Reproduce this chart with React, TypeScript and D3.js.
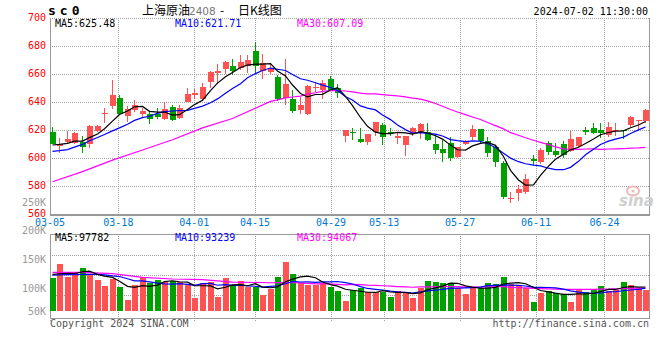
import React, { useEffect, useRef } from 'react';
import * as d3 from 'd3';

// trading days shown on the chart
const dates = [
  '03-05', '03-06', '03-07', '03-08', '03-11', '03-12', '03-13', '03-14', '03-15', '03-18',
  '03-19', '03-20', '03-21', '03-22', '03-25', '03-26', '03-27', '03-28', '03-29', '04-01',
  '04-02', '04-03', '04-08', '04-09', '04-10', '04-11', '04-12', '04-15', '04-16', '04-17',
  '04-18', '04-19', '04-22', '04-23', '04-24', '04-25', '04-26', '04-29', '04-30', '05-06',
  '05-07', '05-08', '05-09', '05-10', '05-13', '05-14', '05-15', '05-16', '05-17', '05-20',
  '05-21', '05-22', '05-23', '05-24', '05-27', '05-28', '05-29', '05-30', '05-31', '06-03',
  '06-04', '06-05', '06-06', '06-07', '06-11', '06-12', '06-13', '06-14', '06-17', '06-18',
  '06-19', '06-20', '06-21', '06-24', '06-25', '06-26', '06-27', '06-28', '07-01', '07-02',
];

const opens = [
  618.9, 608.4, 611.5, 611.0, 611.2, 609.8, 619.1, 632.0, 637.0, 643.1,
  630.3, 634.1, 631.7, 631.7, 631.5, 628.1, 636.5, 628.4, 640.3, 645.3,
  642.0, 654.3, 661.0, 663.9, 665.8, 664.6, 665.5, 676.3, 662.2, 661.7,
  657.9, 643.2, 642.3, 634.5, 631.6, 650.5, 648.3, 656.6, 650.0, 615.9,
  618.8, 613.8, 611.2, 618.3, 623.8, 618.6, 614.0, 609.5, 617.6, 618.8,
  618.3, 610.0, 606.4, 610.4, 600.9, 610.0, 615.2, 620.7, 611.9, 607.6,
  596.4, 571.0, 575.2, 575.4, 599.5, 597.1, 610.7, 605.2, 610.2, 605.2,
  608.8, 619.8, 621.4, 619.8, 616.2, 619.8, 619.8, 623.8, 627.0, 626.2,
];
const highs = [
  622.4, 614.6, 619.3, 618.9, 615.8, 623.4, 623.9, 635.5, 656.0, 644.8,
  637.4, 641.7, 636.0, 633.1, 636.0, 640.3, 637.9, 637.9, 649.8, 649.6,
  653.9, 662.5, 667.2, 669.3, 670.5, 673.6, 673.6, 683.2, 674.1, 668.2,
  659.0, 671.0, 648.8, 643.5, 652.3, 654.2, 655.9, 658.8, 653.0, 620.2,
  621.4, 621.4, 617.3, 625.4, 625.0, 621.4, 617.8, 615.4, 621.9, 624.9,
  624.9, 617.1, 613.0, 614.7, 607.6, 613.0, 623.5, 620.7, 614.7, 608.8,
  598.0, 575.4, 580.7, 588.5, 602.4, 607.1, 611.9, 610.7, 611.9, 619.0,
  615.2, 622.1, 625.0, 625.0, 625.7, 625.0, 619.8, 629.8, 627.4, 635.2,
];
const lows = [
  610.0, 603.9, 609.8, 610.0, 603.9, 607.4, 618.5, 625.3, 634.8, 631.0,
  626.0, 633.0, 629.6, 624.1, 627.7, 627.0, 626.5, 627.7, 640.0, 642.0,
  640.5, 650.0, 652.7, 659.8, 659.3, 663.1, 661.0, 661.0, 656.7, 660.0,
  641.0, 637.9, 632.0, 631.6, 630.4, 646.9, 642.1, 648.0, 642.8, 611.2,
  612.6, 610.7, 609.5, 615.4, 609.0, 616.0, 610.2, 601.2, 616.0, 613.5,
  612.0, 603.0, 597.3, 598.0, 599.7, 609.0, 613.0, 611.0, 600.4, 593.3,
  571.0, 567.6, 569.5, 574.0, 595.2, 596.0, 601.9, 601.0, 600.0, 604.0,
  608.0, 616.7, 617.0, 614.3, 615.0, 615.5, 613.8, 622.0, 620.2, 625.0,
];
const closes = [
  610.3, 610.0, 613.9, 618.1, 608.1, 622.7, 623.1, 632.3, 645.3, 631.7,
  635.3, 638.1, 633.9, 627.7, 629.1, 635.3, 627.2, 635.5, 646.0, 646.7,
  651.0, 661.7, 662.0, 668.6, 662.2, 668.9, 670.1, 665.8, 668.2, 664.1,
  642.4, 652.7, 633.3, 638.1, 651.6, 651.0, 653.5, 648.8, 646.4, 620.2,
  618.1, 611.2, 617.3, 625.4, 615.0, 618.3, 615.4, 615.4, 621.1, 624.2,
  613.1, 605.7, 603.3, 599.7, 607.6, 611.9, 620.7, 612.3, 603.3, 596.9,
  572.3, 571.2, 577.8, 585.0, 597.8, 606.0, 604.5, 602.4, 602.4, 613.8,
  615.2, 618.3, 617.8, 617.8, 622.1, 620.2, 619.0, 629.0, 627.4, 634.5,
];
const volumes = [
  116000, 139700, 117800, 123600, 133300, 121900, 112100, 102200, 113300, 100500,
  77600, 103400, 116700, 106400, 112100, 108100, 110300, 108100, 103400, 81600,
  107400, 109100, 83300, 116000, 101700, 110300, 99500, 100500, 86700, 96600,
  117800, 143600, 122900, 106400, 103400, 103400, 106400, 100500, 93600, 76400,
  94800, 97800, 91900, 91900, 91900, 83300, 93600, 91900, 81600, 98800,
  110300, 109100, 107400, 107400, 97800, 88400, 97800, 97800, 107400, 105200,
  117800, 104700, 102200, 97800, 74700, 90200, 93600, 90200, 87900, 74700,
  94800, 91900, 96600, 101700, 93600, 94800, 109100, 103400, 97800, 94800,
];

const priceMa5Head = [609.3, 609.8, 610.5, 612.0];
const priceMa10Head = [604.8, 605.3, 606.0, 607.8, 609.7, 612.3, 614.6, 616.8, 619.4];
const ma30HeadIdx = [0, 4, 8, 12, 16, 20, 24];
const priceMa30Head = [583.0, 590.3, 598.5, 605.7, 613.0, 621.5, 628.2];
const volMa5Head = [121900, 122800, 123600, 123300];
const volMa10Head = [120600, 120900, 121200, 121400, 121700, 121700, 121700, 120900, 119100];
const volMa30Head = [125300, 125300, 122900, 116700, 113800, 112600, 108500];

const tickDates = ['03-05', '03-18', '04-01', '04-15', '04-29', '05-13', '05-27', '06-11', '06-24'];
const priceTicks = [700, 680, 660, 640, 620, 600, 580, 560];
const volTicks = [250000, 200000, 150000, 100000, 50000];
const volTickLabels = ['250K', '200K', '150K', '100K', '50K'];
const maNames = ['MA5', 'MA10', 'MA30'];
const maColors = ['#000000', '#0000ff', '#ff00ff'];
const priceMaLatest = ['625.48', '621.71', '607.09'];
const volMaLatest = ['97782', '93239', '94067'];

const movingAverage = (vals: number[], period: number, head: number[], headIdx?: number[]) => {
  const pts: [number, number][] = head.map((v, k) => [headIdx ? headIdx[k] : k, v]);
  for (let i = period - 1; i < vals.length; i++) {
    pts.push([i, d3.mean(vals.slice(i - period + 1, i + 1)) as number]);
  }
  return pts;
};

const App: React.FC = () => {
  const ref = useRef<SVGSVGElement>(null);

  useEffect(() => {
    if (!ref.current) return;
    const svg = d3.select(ref.current);
    svg.selectAll('*').remove();

    const mono = '"DejaVu Sans Mono", monospace';
    const red = '#ff5252';
    const green = '#00a000';
    const gridColor = '#a0a0a0';
    const boxColor = '#999999';
    const left = 50, right = 649;
    const top = 18, bottom = 214;
    const volTop = 234, volBottom = 318, volBase = 311;

    const idx = d3.range(closes.length);
    const xBand = d3.scaleBand<number>().domain(idx).range([49, 650]).paddingInner(0.2).paddingOuter(0.1);
    const xGrid = d3.scalePoint<number>().domain(idx).range([50, 650]);
    const y = d3.scaleLinear().domain([560, 700]).range([bottom, top]);
    const yv = d3.scaleLinear().domain([58600, 250000]).range([volBase, 200]);

    const bx = (i: number) => Math.round(xBand(i) as number);
    const cx = (i: number) => bx(i) + 2.5;

    svg.append('rect').attr('width', 660).attr('height', 360).attr('fill', '#ffffff');

    const grid = svg.append('g').attr('shape-rendering', 'crispEdges');

    // horizontal price grid
    priceTicks.filter(t => t !== 560).forEach(t => {
      grid.append('line')
        .attr('x1', left).attr('x2', right + 1)
        .attr('y1', Math.round(y(t)) + 0.5).attr('y2', Math.round(y(t)) + 0.5)
        .attr('stroke', gridColor).attr('stroke-dasharray', '1,1');
    });
    // horizontal volume grid
    [1, 2, 3].forEach(k => {
      const yy = volTop + 1.5 + 20 * k;
      grid.append('line')
        .attr('x1', left).attr('x2', right + 1)
        .attr('y1', yy).attr('y2', yy)
        .attr('stroke', gridColor).attr('stroke-dasharray', '1,1');
    });
    // vertical date grid
    const tickIdx = tickDates.map(d => dates.indexOf(d));
    tickIdx.forEach(i => {
      const xx = Math.round(xGrid(i) as number) + 0.5;
      grid.append('line').attr('x1', xx).attr('x2', xx).attr('y1', top).attr('y2', bottom)
        .attr('stroke', gridColor).attr('stroke-dasharray', '1,1');
      grid.append('line').attr('x1', xx).attr('x2', xx).attr('y1', volTop).attr('y2', volBottom + 4)
        .attr('stroke', gridColor).attr('stroke-dasharray', '1,1');
    });

    // frames
    grid.append('line').attr('x1', left + 0.5).attr('x2', left + 0.5).attr('y1', top).attr('y2', bottom + 1)
      .attr('stroke', boxColor);
    grid.append('line').attr('x1', right + 0.5).attr('x2', right + 0.5).attr('y1', top).attr('y2', bottom + 1)
      .attr('stroke', boxColor);
    grid.append('line').attr('x1', left).attr('x2', right + 1).attr('y1', bottom + 0.5).attr('y2', bottom + 0.5)
      .attr('stroke', boxColor).attr('stroke-width', 2);
    grid.append('rect')
      .attr('x', left + 0.5).attr('y', volTop + 0.5)
      .attr('width', right - left).attr('height', volBottom - volTop)
      .attr('fill', 'none').attr('stroke', boxColor);

    // sina watermark
    const wm = svg.append('g');
    wm.append('ellipse').attr('cx', 633).attr('cy', 191).attr('rx', 6).attr('ry', 4.5)
      .attr('fill', 'none').attr('stroke', '#f3b8b8').attr('stroke-width', 2);
    wm.append('circle').attr('cx', 633).attr('cy', 191).attr('r', 1.6).attr('fill', '#f3b8b8');
    wm.append('text').attr('x', 619).attr('y', 206)
      .attr('font-family', 'Verdana, "DejaVu Sans", sans-serif').attr('font-size', 15)
      .attr('font-weight', 'bold').attr('font-style', 'italic')
      .attr('fill', '#cfcfcf').text('sina');

    // candles
    const candles = svg.append('g').attr('shape-rendering', 'crispEdges');
    idx.forEach(i => {
      const up = closes[i] >= opens[i];
      const col = up ? red : green;
      candles.append('line')
        .attr('x1', cx(i)).attr('x2', cx(i))
        .attr('y1', Math.round(y(highs[i]))).attr('y2', Math.round(y(lows[i])))
        .attr('stroke', col);
      const yTop = Math.round(y(Math.max(opens[i], closes[i])));
      const yBot = Math.round(y(Math.min(opens[i], closes[i])));
      candles.append('rect')
        .attr('x', bx(i)).attr('y', yTop)
        .attr('width', 6).attr('height', Math.max(1, yBot - yTop))
        .attr('fill', col);
    });

    // volume bars
    const vols = svg.append('g').attr('shape-rendering', 'crispEdges');
    idx.forEach(i => {
      const up = closes[i] >= opens[i];
      const yy = Math.round(yv(volumes[i]));
      vols.append('rect')
        .attr('x', bx(i)).attr('y', yy)
        .attr('width', 6).attr('height', volBase - yy)
        .attr('fill', up ? red : green);
    });

    // moving average lines
    const priceMas = [
      movingAverage(closes, 5, priceMa5Head),
      movingAverage(closes, 10, priceMa10Head),
      movingAverage(closes, 30, priceMa30Head, ma30HeadIdx),
    ];
    const volMas = [
      movingAverage(volumes, 5, volMa5Head),
      movingAverage(volumes, 10, volMa10Head),
      movingAverage(volumes, 30, volMa30Head, ma30HeadIdx),
    ];
    const priceLine = d3.line<[number, number]>().x(d => cx(d[0])).y(d => y(d[1]));
    const volLine = d3.line<[number, number]>().x(d => cx(d[0])).y(d => yv(d[1]));
    [2, 1, 0].forEach(k => {
      svg.append('path').datum(priceMas[k])
        .attr('fill', 'none').attr('stroke', maColors[k]).attr('stroke-width', 1.2)
        .attr('d', priceLine);
      svg.append('path').datum(volMas[k])
        .attr('fill', 'none').attr('stroke', maColors[k]).attr('stroke-width', 1.2)
        .attr('d', volLine);
    });

    const text = (x: number, yy: number, s: string, color: string, anchor = 'start', size = 10) =>
      svg.append('text')
        .attr('x', x).attr('y', yy)
        .attr('font-family', mono).attr('font-size', size)
        .attr('text-anchor', anchor).attr('fill', color)
        .text(s);

    // axis labels
    priceTicks.forEach(t => {
      text(46, y(t) + 2.5, String(t), '#ff0000', 'end');
    });
    volTicks.forEach((t, k) => {
      text(46, Math.min(yv(t) + 2, volBase) + 3.5, volTickLabels[k], '#999999', 'end');
    });
    tickIdx.forEach((i, k) => {
      text(xGrid(i) as number, 225.5, tickDates[k], '#0078d4', 'middle');
    });

    // MA legends
    const maX = [55, 175, 297];
    maNames.forEach((m, k) => {
      text(maX[k], 27, `${m}:${priceMaLatest[k]}`, maColors[k]);
      text(maX[k], 241, `${m}:${volMaLatest[k]}`, maColors[k]);
    });

    // header
    svg.append('text').attr('x', 48).attr('y', 15)
      .attr('font-family', mono).attr('font-size', 13).attr('font-weight', 'bold')
      .attr('letter-spacing', 4).attr('fill', '#000').text('sc0');
    const cjk = '"Noto Sans CJK SC", sans-serif';
    svg.append('text').attr('x', 142).attr('y', 15)
      .attr('font-family', cjk).attr('font-size', 12).attr('fill', '#000').text('上海原油');
    svg.append('text').attr('x', 189).attr('y', 15)
      .attr('font-family', '"DejaVu Sans", sans-serif').attr('font-size', 10.5).attr('fill', '#777').text('2408');
    svg.append('text').attr('x', 220).attr('y', 15)
      .attr('font-family', cjk).attr('font-size', 12).attr('fill', '#000').text('-');
    svg.append('text').attr('x', 238).attr('y', 15)
      .attr('font-family', cjk).attr('font-size', 12).attr('fill', '#000').text('日K线图');
    text(648, 15, '2024-07-02 11:30:00', '#000000', 'end');

    // footer
    text(50, 327, 'Copyright 2024 SINA.COM', '#555555');
    text(649, 327, 'http://finance.sina.com.cn', '#555555', 'end');
  }, []);

  return (
    <svg
      ref={ref}
      width={660}
      height={360}
      style={{ position: 'absolute', left: 0, top: 0 }}
    />
  );
};

export default App;
